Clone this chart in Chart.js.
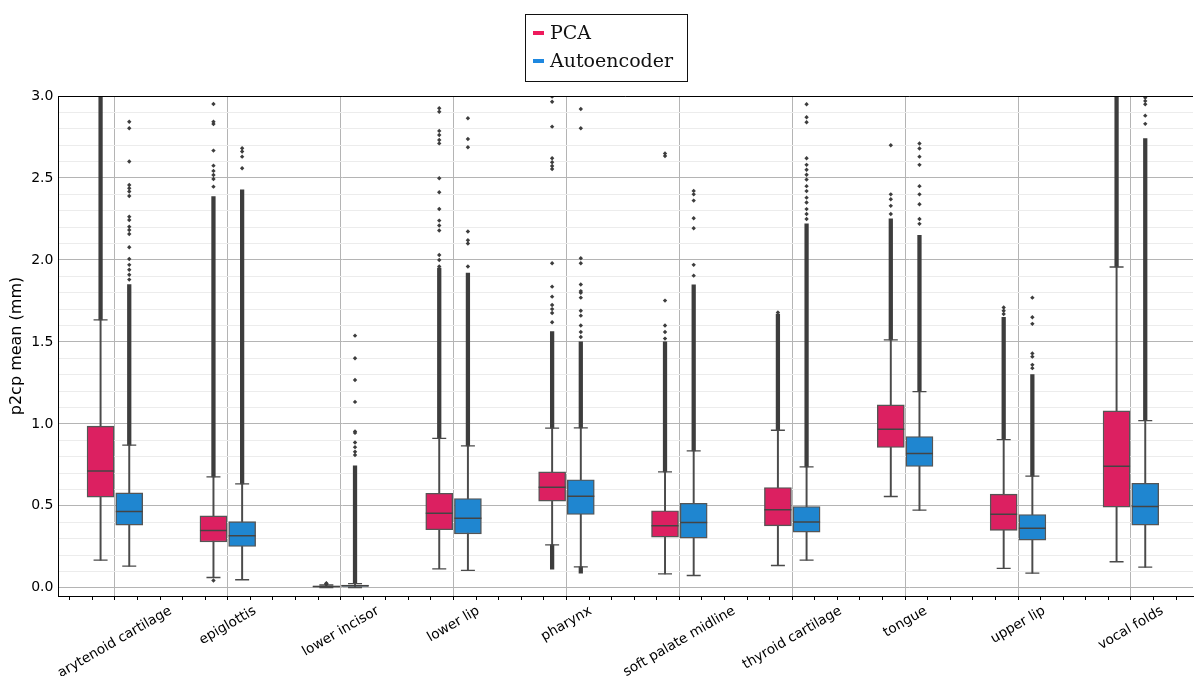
<!DOCTYPE html>
<html>
<head>
<meta charset="utf-8">
<script src="https://cdn.jsdelivr.net/npm/chart.js@4.4.0/dist/chart.umd.min.js"></script>
<style>
  html, body { margin: 0; padding: 0; background: #fff; overflow: hidden; }
  #contenedor { position: relative; width: 1208px; height: 676px; }
</style>
</head>
<body>
<div id="contenedor"><canvas id="grafico"></canvas></div>
<script>
// === DATOS ===
const categorias = ['arytenoid cartilage', 'epiglottis', 'lower incisor', 'lower lip', 'pharynx',
  'soft palate midline', 'thyroid cartilage', 'tongue', 'upper lip', 'vocal folds'];

// PCA: bigotes, cuartiles y mediana
const pcaMin = [0.169, 0.063, 0.001, 0.116, 0.262, 0.085, 0.136, 0.557, 0.118, 0.159];
const pcaQ1  = [0.553, 0.280, 0.005, 0.354, 0.529, 0.309, 0.378, 0.856, 0.350, 0.492];
const pcaMed = [0.713, 0.349, 0.008, 0.455, 0.614, 0.378, 0.476, 0.967, 0.449, 0.742];
const pcaQ3  = [0.986, 0.439, 0.011, 0.577, 0.707, 0.470, 0.612, 1.116, 0.571, 1.079];
const pcaMax = [1.634, 0.677, 0.017, 0.911, 0.974, 0.707, 0.961, 1.512, 0.904, 1.957];

// Autoencoder
const aeMin = [0.132, 0.049, 0.002, 0.106, 0.128, 0.075, 0.169, 0.474, 0.089, 0.126];
const aeQ1  = [0.382, 0.252, 0.008, 0.329, 0.447, 0.303, 0.340, 0.740, 0.291, 0.382];
const aeMed = [0.465, 0.317, 0.012, 0.425, 0.559, 0.398, 0.402, 0.819, 0.364, 0.496];
const aeQ3  = [0.579, 0.404, 0.016, 0.545, 0.659, 0.516, 0.496, 0.923, 0.447, 0.638];
const aeMax = [0.870, 0.634, 0.025, 0.866, 0.976, 0.835, 0.738, 1.197, 0.681, 1.020];

// tramos donde los outliers forman una columna continua
const pcaDensos = [
  [[1.634, 3.0]], [[0.677, 2.386]], [], [[0.911, 1.95]], [[0.974, 1.563], [0.114, 0.262]],
  [[0.707, 1.50]], [[0.961, 1.67]], [[1.512, 2.25]], [[0.904, 1.65]], [[1.957, 3.0]]
];
const aeDensos = [
  [[0.870, 1.85]], [[0.634, 2.427]], [[0.025, 0.744]], [[0.866, 1.92]], [[0.976, 1.50], [0.09, 0.128]],
  [[0.835, 1.848]], [[0.738, 2.22]], [[1.197, 2.15]], [[0.681, 1.30]], [[1.020, 2.74]]
];

// outliers sueltos
const pcaOutliers = [
  [],
  [0.045, 2.447, 2.494, 2.518, 2.543, 2.575, 2.667, 2.829, 2.843, 2.951],
  [0.021, 0.025, 0.028],
  [1.96, 2.0, 2.03, 2.18, 2.21, 2.24, 2.311, 2.413, 2.498, 2.711, 2.732, 2.762, 2.787, 2.904, 2.925],
  [1.620, 1.676, 1.700, 1.725, 1.776, 1.837, 1.980, 2.555, 2.573, 2.596, 2.620, 2.813, 2.965, 2.996],
  [1.52, 1.56, 1.60, 1.752, 2.634, 2.650],
  [1.68],
  [2.28, 2.33, 2.37, 2.40, 2.70],
  [1.67, 1.69, 1.71],
  []
];
const aeOutliers = [
  [1.88, 1.91, 1.94, 1.970, 2.006, 2.077, 2.158, 2.183, 2.203, 2.244, 2.264, 2.39, 2.417, 2.437, 2.457, 2.60, 2.803, 2.843],
  [2.559, 2.63, 2.661, 2.681],
  [0.81, 0.83, 0.858, 0.886, 0.945, 0.953, 1.134, 1.268, 1.400, 1.538],
  [1.96, 2.10, 2.12, 2.173, 2.687, 2.738, 2.864],
  [1.53, 1.56, 1.60, 1.66, 1.69, 1.77, 1.80, 1.81, 1.85, 1.98, 2.01, 2.803, 2.921],
  [1.904, 1.970, 2.193, 2.254, 2.362, 2.400, 2.421],
  [2.25, 2.28, 2.31, 2.35, 2.38, 2.42, 2.45, 2.49, 2.52, 2.55, 2.58, 2.62, 2.84, 2.87, 2.95],
  [2.22, 2.25, 2.34, 2.40, 2.45, 2.58, 2.63, 2.68, 2.71],
  [1.34, 1.36, 1.41, 1.43, 1.61, 1.65, 1.77],
  [2.83, 2.88, 2.95, 2.97, 2.99]
];

const colorPCA = '#dc2061';
const colorAE = '#1f86d0';
const colorLinea = '#4a4a4a';
const colorPunto = '#3d3d3d';

// === CONSTRUIR UNA SERIE DE CAJAS ===
function crearSerie(nombre, color, desp, min, q1, med, q3, max, densos, outliers) {
  const pos = i => i + desp;
  return [
    { type: 'bar', label: nombre + ' bigotes', grouped: false, order: 6, barThickness: 1.3,
      backgroundColor: colorLinea,
      data: categorias.map((c, i) => ({ x: pos(i), y: [min[i], max[i]] })) },
    { type: 'bar', label: nombre + ' densos', grouped: false, order: 5, barThickness: 3.6,
      backgroundColor: colorPunto,
      data: densos.flatMap((tramos, i) => tramos.map(t => ({ x: pos(i), y: t }))) },
    { type: 'bar', label: nombre, grouped: false, order: 4, barThickness: 27,
      backgroundColor: color, borderColor: '#555555', borderWidth: 1.4, borderSkipped: false,
      data: categorias.map((c, i) => ({ x: pos(i), y: [q1[i], q3[i]] })) },
    { type: 'scatter', label: nombre + ' topes', order: 3, pointStyle: 'line', radius: 7,
      borderColor: colorLinea, borderWidth: 1.3,
      data: categorias.flatMap((c, i) => [{ x: pos(i), y: min[i] }, { x: pos(i), y: max[i] }]) },
    { type: 'scatter', label: nombre + ' outliers', order: 2, pointStyle: 'rectRot', radius: 2.2,
      backgroundColor: colorPunto, borderWidth: 0,
      data: outliers.flatMap((vals, i) => vals.map(v => ({ x: pos(i), y: v }))) },
    { type: 'scatter', label: nombre + ' mediana', order: 1, pointStyle: 'line', radius: 13.5,
      borderColor: '#444444', borderWidth: 1.5,
      data: categorias.map((c, i) => ({ x: pos(i), y: med[i] })) }
  ];
}

const esMultiplo = (v, paso) => Math.abs(v / paso - Math.round(v / paso)) < 1e-6;

// === ETIQUETAS X, MARCO Y LEYENDA ===
const extras = {
  id: 'extras',
  afterDraw(chart) {
    const { ctx, chartArea: a, scales: { x } } = chart;
    ctx.save();
    ctx.strokeStyle = '#000';
    ctx.lineWidth = 1;
    ctx.beginPath();
    ctx.moveTo(a.left, a.top + 0.5);
    ctx.lineTo(a.right, a.top + 0.5);
    ctx.stroke();

    // etiquetas giradas 30 grados, centradas en la marca
    ctx.font = '13.6px "DejaVu Sans"';
    ctx.fillStyle = '#000';
    const ang = 30 * Math.PI / 180;
    const alto = 16;
    categorias.forEach((c, i) => {
      const w = ctx.measureText(c).width;
      const H = w * Math.sin(ang) + alto * Math.cos(ang);
      ctx.save();
      ctx.translate(x.getPixelForValue(i), a.bottom + 7 + H / 2);
      ctx.rotate(-ang);
      ctx.textAlign = 'center';
      ctx.textBaseline = 'middle';
      ctx.fillText(c, 0, 0);
      ctx.restore();
    });

    // leyenda con recuadro
    ctx.fillStyle = '#fff';
    ctx.fillRect(525, 14, 162, 67);
    ctx.strokeStyle = '#111';
    ctx.strokeRect(525.5, 14.5, 162, 67);
    const items = [['PCA', '#ee1a5c', 33], ['Autoencoder', '#1e88e0', 61]];
    ctx.font = '19px "DejaVu Serif"';
    ctx.textAlign = 'left';
    ctx.textBaseline = 'middle';
    items.forEach(([txt, col, y]) => {
      ctx.strokeStyle = col;
      ctx.lineWidth = 4;
      ctx.beginPath();
      ctx.moveTo(533, y);
      ctx.lineTo(544, y);
      ctx.stroke();
      ctx.fillStyle = '#111';
      ctx.fillText(txt, 550, y + 1);
    });
    ctx.restore();
  }
};

// === CREAR GRÁFICA ===
const datasets = [
  ...crearSerie('PCA', colorPCA, -0.127, pcaMin, pcaQ1, pcaMed, pcaQ3, pcaMax, pcaDensos, pcaOutliers),
  ...crearSerie('Autoencoder', colorAE, 0.127, aeMin, aeQ1, aeMed, aeQ3, aeMax, aeDensos, aeOutliers)
];

new Chart(document.getElementById('grafico'), {
  type: 'bar',
  data: { datasets },
  plugins: [extras],
  options: {
    responsive: true,
    maintainAspectRatio: false,
    animation: false,
    layout: { padding: { top: 96, left: 4, right: 0, bottom: 76 } },
    plugins: { legend: { display: false }, tooltip: { enabled: false } },
    scales: {
      x: {
        type: 'linear',
        min: -0.5,
        max: 9.55,
        offset: false,
        ticks: { display: false, stepSize: 0.2, autoSkip: false, includeBounds: false },
        grid: {
          offset: false,
          tickLength: 4,
          color: c => esMultiplo(c.tick.value, 1) ? '#b4b4b4' : 'rgba(0,0,0,0)',
          tickColor: '#000'
        },
        border: { color: '#000', width: 1 }
      },
      y: {
        min: -0.05,
        max: 3.0,
        ticks: {
          stepSize: 0.1,
          autoSkip: false,
          includeBounds: false,
          padding: 5,
          color: '#000',
          font: { family: 'DejaVu Sans', size: 14 },
          callback: v => (v >= -1e-9 && esMultiplo(v, 0.5)) ? Math.abs(v).toFixed(1) : ''
        },
        grid: {
          drawTicks: false,
          color: c => {
            const v = c.tick.value;
            if (esMultiplo(v, 0.5)) return '#b4b4b4';
            if (esMultiplo(v, 0.1)) return '#ececec';
            return 'rgba(0,0,0,0)';
          }
        },
        border: { color: '#000', width: 1 },
        title: {
          display: true,
          text: 'p2cp mean (mm)',
          color: '#000',
          padding: { top: 3, bottom: 0 },
          font: { family: 'DejaVu Sans', size: 16 }
        }
      }
    }
  }
});
</script>
</body>
</html>
